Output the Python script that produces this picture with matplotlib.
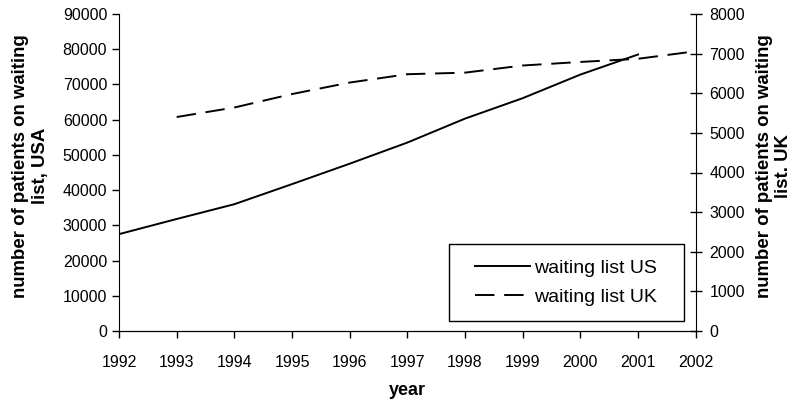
import matplotlib
matplotlib.use('Agg')
import matplotlib.pyplot as plt
from matplotlib.patches import Rectangle

plt.rcParams['font.family'] = ['Liberation Sans', 'DejaVu Sans']

years_us = [1992, 1993, 1994, 1995, 1996, 1997, 1998, 1999, 2000, 2001]
us_list = [27500, 31800, 36000, 41700, 47500, 53500, 60300, 66100, 72800, 78500]

years_uk = [1993, 1994, 1995, 1996, 1997, 1998, 1999, 2000, 2001, 2002]
uk_list = [5400, 5640, 5980, 6270, 6480, 6520, 6700, 6790, 6870, 7060]

fig = plt.figure(figsize=(7.96, 4), dpi=100)
ax = fig.add_axes([0.1495, 0.1725, 0.7245, 0.7925])
ax2 = ax.twinx()

l1, = ax.plot(years_us, us_list, color='black', lw=1.4, label='waiting list US')
l2, = ax2.plot(years_uk, uk_list, color='black', lw=1.4, dashes=(10, 5), label='waiting list UK')

ax.set_xlim(1992, 2002)
ax.set_ylim(0, 90000)
ax2.set_ylim(0, 8000)
ax.set_xticks(range(1992, 2003))
ax.set_yticks(range(0, 90001, 10000))
ax2.set_yticks(range(0, 8001, 1000))

for a in (ax, ax2):
    a.spines['top'].set_visible(False)
ax.spines['right'].set_visible(False)
ax2.spines['left'].set_visible(False)

ax.tick_params(axis='both', labelsize=11.5, color='black', length=5, width=1)
ax.tick_params(axis='x', direction='out', pad=12)
ax2.tick_params(axis='y', labelsize=11.5, direction='inout', length=8, width=1, pad=6)

ax.set_xlabel('year', fontsize=13, fontweight='bold', labelpad=9)
ax.set_ylabel('number of patients on waiting\nlist, USA', fontsize=13.4, fontweight='bold',
              labelpad=10, linespacing=1.25)
ax.yaxis.label.set_y(0.52)
ax2.set_ylabel('number of patients on waiting\nlist. UK', fontsize=13.4, fontweight='bold',
               labelpad=8, linespacing=1.12)
ax2.yaxis.label.set_y(0.52)

# legend box drawn by hand, content centred in it
ax2.add_patch(Rectangle((0.572, 0.032), 0.407, 0.243, transform=ax2.transAxes,
                        fill=False, edgecolor='black', lw=1, zorder=5))
leg = ax2.legend(handles=[l1, l2], loc='center', bbox_to_anchor=(0.7756, 0.153),
                 fontsize=14, frameon=False, handlelength=2.8,
                 handletextpad=0.25, borderpad=0, labelspacing=0.6, borderaxespad=0)

fig.savefig('out.png', dpi=100)
